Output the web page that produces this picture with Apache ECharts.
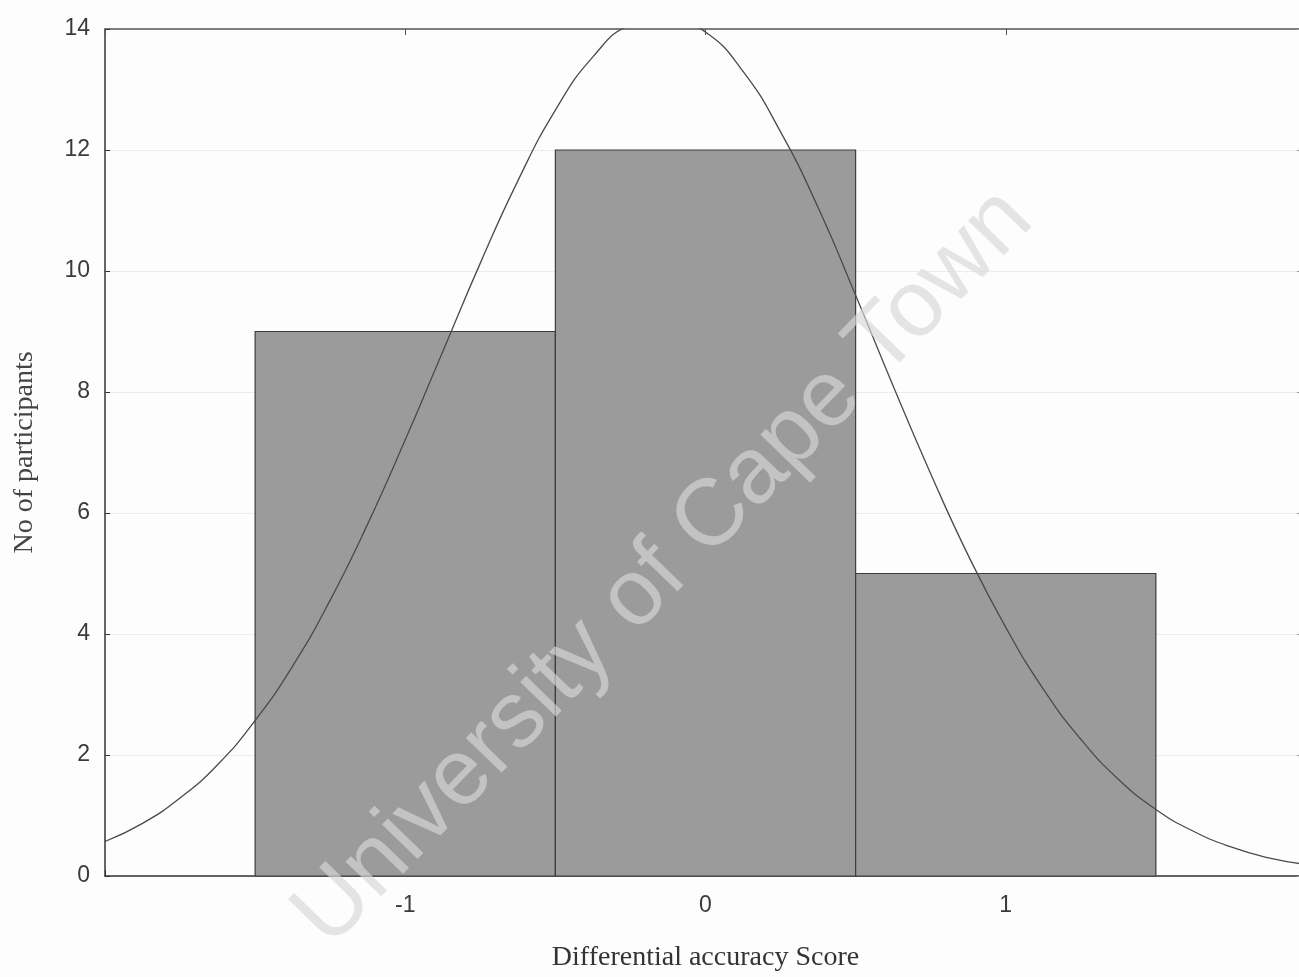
<!DOCTYPE html>
<html>
<head>
<meta charset="utf-8">
<script src="https://cdn.jsdelivr.net/npm/echarts@6/dist/echarts.min.js"></script>
<style>
html,body{margin:0;padding:0;background:#fdfdfd;overflow:hidden;}
#chart{width:1310px;height:977px;}
</style>
</head>
<body>
<div id="chart"></div>
<script>
// Histogram bins (Differential accuracy Score)
const binStart = [-1.5, -0.5, 0.5];
const binEnd   = [-0.5, 0.5, 1.5];
const counts   = [9, 12, 5];

// Fitted normal curve
const curveX = [-2, -1.875, -1.75, -1.625, -1.5, -1.375, -1.25, -1.125, -1, -0.875, -0.75, -0.625, -0.5, -0.375, -0.25, -0.125,
                0, 0.125, 0.25, 0.375, 0.5, 0.625, 0.75, 0.875, 1, 1.125, 1.25, 1.375, 1.5, 1.625, 1.75, 1.875, 2];
const curveY = [0.57, 0.87, 1.29, 1.84, 2.57, 3.47, 4.56, 5.82, 7.21, 8.67, 10.13, 11.49, 12.66, 13.54, 14.07, 14.19,
                13.95, 13.30, 12.30, 11.05, 9.60, 8.10, 6.65, 5.30, 4.11, 3.09, 2.26, 1.60, 1.10, 0.74, 0.48, 0.30, 0.19];

const xTickLabels = ['-1', '0', '1'];
const yTickLabels = ['0', '2', '4', '6', '8', '10', '12', '14'];

const xTitle = 'Differential accuracy Score';
const yTitle = 'No of participants';
const watermark = 'University of Cape Town';

const chart = echarts.init(document.getElementById('chart'));

const barData = binStart.map((s, i) => [s, binEnd[i], counts[i]]);
const lineData = curveX.map((x, i) => [x, curveY[i]]);

const option = {
  backgroundColor: '#fdfdfd',
  animation: false,
  grid: { left: 105, right: 4, top: 29, bottom: 101, containLabel: false },
  xAxis: [
    {
      type: 'value', min: -2, max: 2, interval: 1,
      position: 'bottom',
      axisLine: { show: true, onZero: false, lineStyle: { color: '#333', width: 1.5 } },
      axisTick: { show: true, inside: true, length: 6, lineStyle: { color: '#333' } },
      splitLine: { show: false },
      axisLabel: {
        margin: 18,
        fontFamily: 'Liberation Sans', fontSize: 23, color: '#3a3a3a',
        formatter: v => { const s = String(v); return xTickLabels.includes(s) ? s : ''; }
      },
      name: xTitle, nameLocation: 'middle', nameGap: 68,
      nameTextStyle: { fontFamily: 'Liberation Serif', fontSize: 28, color: '#333' }
    },
    {
      type: 'value', min: -2, max: 2, interval: 1,
      position: 'top',
      axisLine: { show: true, onZero: false, lineStyle: { color: '#555', width: 1.5 } },
      axisTick: { show: true, inside: true, length: 6, lineStyle: { color: '#555' } },
      splitLine: { show: false },
      axisLabel: { show: false }
    }
  ],
  yAxis: [
    {
      type: 'value', min: 0, max: 14, interval: 2,
      axisLine: { show: true, onZero: false, lineStyle: { color: '#333', width: 1.5 } },
      axisTick: { show: true, inside: true, length: 5, lineStyle: { color: '#333' } },
      splitLine: { show: true, lineStyle: { color: '#ececec', width: 1 } },
      axisLabel: {
        margin: 15,
        fontFamily: 'Liberation Sans', fontSize: 23, color: '#3a3a3a',
        formatter: v => { const s = String(v); return yTickLabels.includes(s) ? s : ''; }
      },
      name: yTitle, nameLocation: 'middle', nameGap: 66, nameRotate: 90,
      nameTextStyle: { fontFamily: 'Liberation Serif', fontSize: 28, color: '#444' }
    },
    {
      type: 'value', min: 0, max: 14, interval: 2,
      position: 'right',
      axisLine: { show: true, onZero: false, lineStyle: { color: '#aaa', width: 1 } },
      axisTick: { show: true, inside: true, length: 9, lineStyle: { color: '#999' } },
      splitLine: { show: false },
      axisLabel: { show: false }
    }
  ],
  series: [
    {
      type: 'custom',
      xAxisIndex: 0, yAxisIndex: 0,
      data: barData,
      encode: { x: [0, 1], y: 2 },
      z: 2,
      renderItem: function (params, api) {
        const x0 = api.value(0), x1 = api.value(1), y = api.value(2);
        const p0 = api.coord([x0, y]);
        const p1 = api.coord([x1, 0]);
        return {
          type: 'rect',
          shape: { x: p0[0], y: p0[1], width: p1[0] - p0[0], height: p1[1] - p0[1] },
          style: { fill: '#9b9b9b', stroke: '#3c3c3c', lineWidth: 1.2 }
        };
      }
    },
    {
      type: 'line',
      xAxisIndex: 0, yAxisIndex: 0,
      data: lineData,
      smooth: true,
      showSymbol: false,
      clip: true,
      z: 3,
      lineStyle: { color: '#4a4a4a', width: 1.3 }
    }
  ],
  graphic: [
    {
      type: 'text',
      x: 664, y: 568,
      rotation: 0.8,
      z: 100,
      style: {
        text: watermark,
        x: 0, y: 0,
        align: 'center', verticalAlign: 'middle',
        fontFamily: 'Liberation Sans', fontSize: 94,
        fill: '#d8d8d8', opacity: 0.66
      }
    }
  ]
};

chart.setOption(option);
</script>
</body>
</html>
